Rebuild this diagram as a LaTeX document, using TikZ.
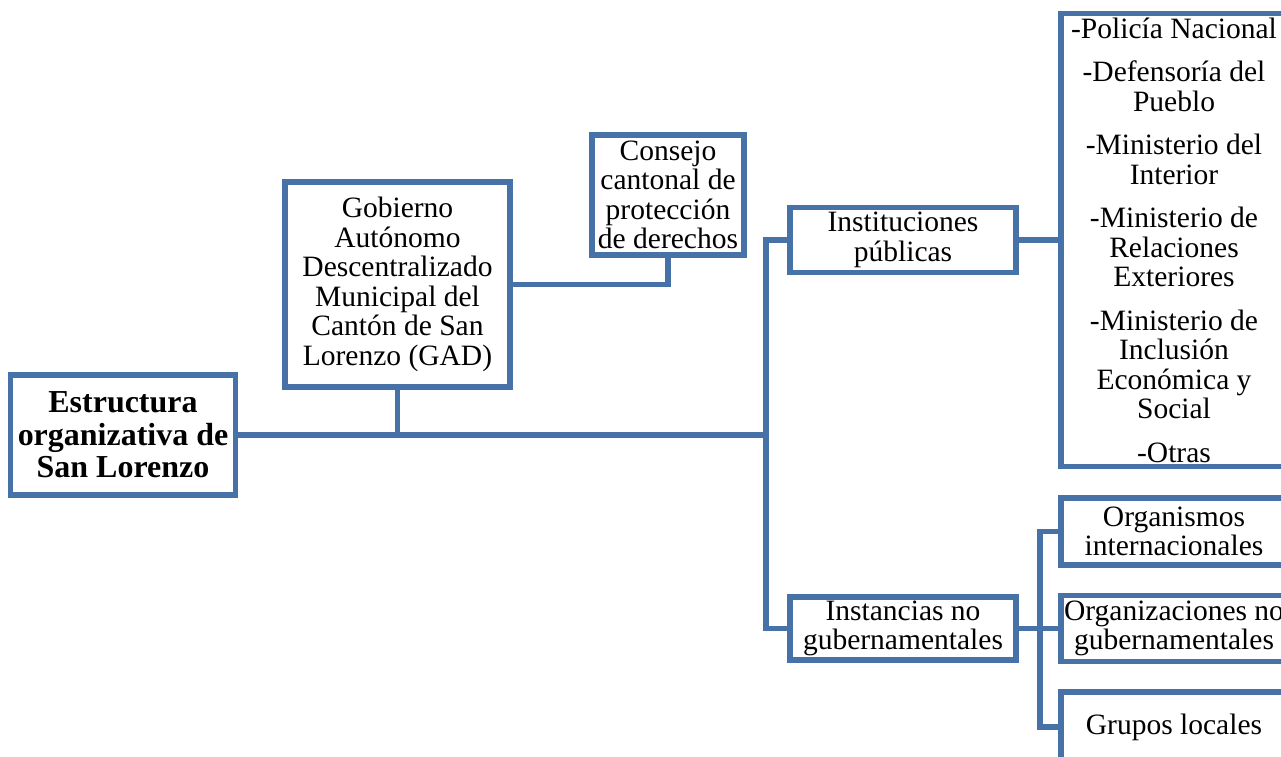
\documentclass[tikz,border=0pt]{standalone}
\usepackage{fontspec}
\setmainfont{Liberation Serif}
\definecolor{linkblue}{RGB}{70, 114, 168}
\tikzset{
  unitbox/.style={
    rectangle, draw=linkblue, line width=3.1pt, fill=white,
    align=center, inner sep=1pt,
    font=\fontsize{16.8}{16.8}\selectfont
  },
  rootbox/.style={
    unitbox,
    font=\fontsize{18.2}{18.6}\selectfont\bfseries
  },
  link/.style={
    draw=linkblue, line width=3.1pt
  }
}

\begin{document}
\begin{tikzpicture}[x=0.02cm, y=-0.02cm]

  \clip (0,0) rectangle (1281,757);

  % ── Root ───────────────────────────────────────────────
  \node[rootbox, minimum width=4.5cm, minimum height=2.4cm]
    (root) at (123,435) {Estructura\\organizativa de\\San Lorenzo};

  % ── Municipal branch ───────────────────────────────────
  \node[unitbox, minimum width=4.5cm, minimum height=4.1cm]
    (gad) at (397.5,284.5)
    {Gobierno\\Autónomo\\Descentralizado\\Municipal del\\Cantón de San\\Lorenzo (GAD)};
  \node[unitbox, minimum width=3.04cm, minimum height=2.4cm]
    (consejo) at (668,195)
    {Consejo\\cantonal de\\protección\\de derechos};

  % ── Second level ───────────────────────────────────────
  \node[unitbox, minimum width=4.52cm, minimum height=1.3cm]
    (publicas) at (903,240) {Instituciones\\públicas};
  \node[unitbox, minimum width=4.52cm, minimum height=1.26cm]
    (nogub) at (903,628.5) {Instancias no\\gubernamentales};

  % ── Public institutions list ───────────────────────────
  \node[unitbox, minimum width=4.52cm, minimum height=9.06cm]
    (lista) at (1174,240)
    {-Policía Nacional\\[0.28cm]
     -Defensoría del\\Pueblo\\[0.28cm]
     -Ministerio del\\Interior\\[0.28cm]
     -Ministerio de\\Relaciones\\Exteriores\\[0.28cm]
     -Ministerio de\\Inclusión\\Económica y\\Social\\[0.28cm]
     -Otras};

  % ── Non-governmental bodies ────────────────────────────
  \node[unitbox, minimum width=4.52cm, minimum height=1.34cm]
    (intern) at (1174,531.5) {Organismos\\internacionales};
  \node[unitbox, minimum width=4.52cm, minimum height=1.32cm]
    (ong) at (1174,628.5) {Organizaciones no\\gubernamentales};
  \node[unitbox, minimum width=4.52cm, minimum height=1.4cm]
    (grupos) at (1174,727) {Grupos locales};

  % ── Junction points ────────────────────────────────────
  \coordinate (bus) at (766,435);
  \coordinate (split) at (1040,628.5);

  % ── Connectors ─────────────────────────────────────────
  \draw[link] (root.east) -- (bus);
  \draw[link] (gad.south) -- (gad.south |- root.east);
  \draw[link] (gad.east) -| (consejo.south);
  \draw[link] (publicas.west) -| (bus);
  \draw[link] (nogub.west) -| (bus);
  \draw[link] (publicas.east) -- (lista.west);
  \draw[link] (nogub.east) -- (split);
  \draw[link] (intern.west) -| (split);
  \draw[link] (ong.west) -- (split);
  \draw[link] (grupos.west) -| (split);

\end{tikzpicture}
\end{document}
